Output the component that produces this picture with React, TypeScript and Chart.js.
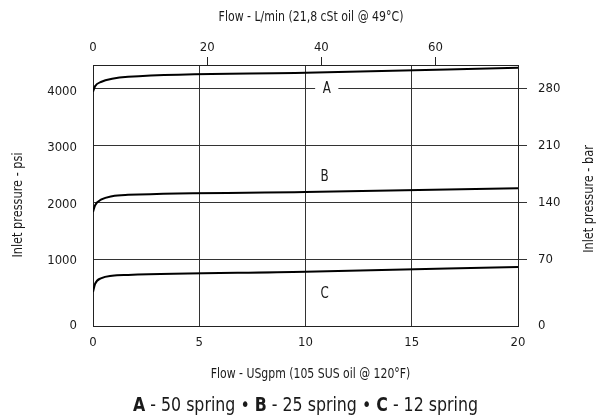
import React, { useEffect, useRef } from 'react';
import { Chart, registerables } from 'chart.js';

Chart.register(...registerables);

const FONT = '"Liberation Sans Narrow", "DejaVu Sans Condensed", "Arial Narrow", sans-serif';
const TEXT = '#1a1a1a';

// Curve data: flow in US gpm, inlet pressure in psi
const flowA = [0, 0.1, 0.4, 0.9, 1.65, 10, 20];
const psiA = [4000, 4100, 4178, 4232, 4267, 4338, 4428];
const flowB = [0, 0.1, 0.4, 0.9, 1.65, 10, 20];
const psiB = [1863, 1980, 2084, 2143, 2166, 2215, 2285];
const flowC = [0, 0.1, 0.4, 0.9, 1.65, 10, 20];
const psiC = [440, 585, 686, 729, 742, 798, 883];

// Axis ticks
const gpmTicks = [0, 5, 10, 15, 20];
const lpmTicks = [0, 20, 40, 60];
const psiTicks = [0, 1000, 2000, 3000, 4000];
const barTicks = [0, 70, 140, 210, 280];

// Axis ranges
const gpmMax = 20;
const lpmMax = 74.45;
const barMin = -11.5;
const barMax = 308.6;
const PSI_PER_BAR = 14.5038;

// Curve labels
const curveNames = ['A', 'B', 'C'];
const labelFlow = [11.0, 10.9, 10.9];
const labelPsi = [4061, 2499, 415];

const topTitle = 'Flow - L/min (21,8 cSt oil @ 49°C)';
const bottomTitle = 'Flow - USgpm (105 SUS oil @ 120°F)';
const leftTitle = 'Inlet pressure - psi';
const rightTitle = 'Inlet pressure - bar';
const legendParts: [string, string][] = [
  ['A', ' - 50 spring • '],
  ['B', ' - 25 spring • '],
  ['C', ' - 12 spring'],
];

const toPoints = (xs: number[], ys: number[]) => xs.map((x, i) => ({ x, y: ys[i] }));

const drawText = (ctx: any, text: string, x: number, y: number, rot: number, sx: number) => {
  ctx.save();
  ctx.translate(x, y);
  ctx.rotate(rot);
  ctx.scale(sx, 1);
  ctx.fillText(text, 0, 0);
  ctx.restore();
};

const textPlugin = {
  id: 'texts',
  afterDatasetsDraw(chart: any) {
    const ctx = chart.ctx;
    const xs = chart.scales.x;
    const ys = chart.scales.y;
    ctx.save();
    ctx.font = `15px ${FONT}`;
    ctx.textAlign = 'center';
    ctx.textBaseline = 'middle';
    curveNames.forEach((name, i) => {
      const px = xs.getPixelForValue(labelFlow[i]);
      const py = ys.getPixelForValue(labelPsi[i]);
      const w = ctx.measureText(name).width + 14;
      ctx.fillStyle = '#ffffff';
      ctx.fillRect(px - w / 2, py - 8, w, 16);
      ctx.fillStyle = TEXT;
      drawText(ctx, name, px, py + 1, 0, 0.88);
    });
    ctx.restore();
  },
  afterDraw(chart: any) {
    const ctx = chart.ctx;
    ctx.save();
    ctx.fillStyle = TEXT;
    ctx.font = `14px ${FONT}`;
    ctx.textAlign = 'center';
    ctx.textBaseline = 'middle';
    drawText(ctx, topTitle, 311, 17, 0, 0.87);
    drawText(ctx, bottomTitle, 310.5, 374, 0, 0.865);
    drawText(ctx, leftTitle, 18, 205, -Math.PI / 2, 0.9);
    drawText(ctx, rightTitle, 589, 199, -Math.PI / 2, 0.9);

    // legend with bold letters
    const size = 19;
    const sx = 0.925;
    const bold = `bold ${size}px ${FONT}`;
    const reg = `${size}px ${FONT}`;
    let total = 0;
    legendParts.forEach(([b, r]) => {
      ctx.font = bold;
      total += ctx.measureText(b).width;
      ctx.font = reg;
      total += ctx.measureText(r).width;
    });
    ctx.translate(305.5 - (total * sx) / 2, 406);
    ctx.scale(sx, 1);
    let x = 0;
    ctx.textAlign = 'left';
    legendParts.forEach(([b, r]) => {
      ctx.font = bold;
      ctx.fillText(b, x, 0);
      x += ctx.measureText(b).width;
      ctx.font = reg;
      ctx.fillText(r, x, 0);
      x += ctx.measureText(r).width;
    });
    ctx.restore();
  },
};

export default function App() {
  const ref = useRef<HTMLCanvasElement | null>(null);

  useEffect(() => {
    if (!ref.current) return;
    const lineDs = (data: { x: number; y: number }[]) => ({
      data,
      borderColor: '#000',
      borderWidth: 2,
      pointRadius: 0,
      cubicInterpolationMode: 'monotone' as const,
      fill: false,
      xAxisID: 'x',
      yAxisID: 'y',
    });
    const tickFont = { family: FONT, size: 13 };
    const chart = new Chart(ref.current, {
      type: 'line',
      data: {
        datasets: [
          lineDs(toPoints(flowA, psiA)),
          lineDs(toPoints(flowB, psiB)),
          lineDs(toPoints(flowC, psiC)),
        ],
      },
      options: {
        animation: false,
        responsive: false,
        maintainAspectRatio: false,
        layout: { padding: 0 },
        plugins: { legend: { display: false }, tooltip: { enabled: false } },
        scales: {
          x: {
            type: 'linear',
            position: 'bottom',
            min: 0,
            max: gpmMax,
            afterBuildTicks: (s: any) => {
              s.ticks = gpmTicks.map((v) => ({ value: v }));
            },
            afterFit: (s: any) => {
              s.height = 94;
            },
            grid: { display: true, drawOnChartArea: true, drawTicks: false, color: '#333', lineWidth: 1 },
            border: { display: true, color: '#222', width: 1 },
            ticks: {
              autoSkip: false,
              maxRotation: 0,
              padding: 9,
              color: TEXT,
              font: tickFont,
              callback: (_v: any, i: number) => String(gpmTicks[i]),
            },
          },
          x2: {
            type: 'linear',
            position: 'top',
            min: 0,
            max: lpmMax,
            afterBuildTicks: (s: any) => {
              s.ticks = lpmTicks.map((v) => ({ value: v }));
            },
            afterFit: (s: any) => {
              s.height = 65;
            },
            grid: {
              display: true,
              drawOnChartArea: false,
              drawTicks: true,
              tickLength: 8,
              color: (c: any) => (c.tick && c.tick.value === 0 ? 'rgba(0,0,0,0)' : '#222'),
              lineWidth: 1,
            },
            border: { display: true, color: '#222', width: 1 },
            ticks: {
              autoSkip: false,
              maxRotation: 0,
              padding: 2,
              color: TEXT,
              font: tickFont,
              callback: (_v: any, i: number) => String(lpmTicks[i]),
            },
          },
          y: {
            type: 'linear',
            position: 'left',
            min: barMin * PSI_PER_BAR,
            max: barMax * PSI_PER_BAR,
            afterBuildTicks: (s: any) => {
              s.ticks = psiTicks.map((v) => ({ value: v === 0 ? s.min : v }));
            },
            afterFit: (s: any) => {
              s.width = 93;
            },
            grid: { display: false, drawTicks: false },
            border: { display: true, color: '#222', width: 1 },
            ticks: {
              autoSkip: false,
              padding: 16,
              color: TEXT,
              font: tickFont,
              callback: (_v: any, i: number) => String(psiTicks[i]),
            },
          },
          y2: {
            type: 'linear',
            position: 'right',
            min: barMin,
            max: barMax,
            afterBuildTicks: (s: any) => {
              s.ticks = barTicks.map((v) => ({ value: v === 0 ? s.min : v }));
            },
            afterFit: (s: any) => {
              s.width = 78;
            },
            grid: {
              display: true,
              drawOnChartArea: true,
              drawTicks: true,
              tickLength: 9,
              color: (c: any) => (c.tick && c.index === 0 ? 'rgba(0,0,0,0)' : '#333'),
              lineWidth: 1,
            },
            border: { display: true, color: '#222', width: 1 },
            ticks: {
              autoSkip: false,
              padding: 11,
              color: TEXT,
              font: tickFont,
              callback: (_v: any, i: number) => String(barTicks[i]),
            },
          },
        },
      },
      plugins: [textPlugin],
    } as any);
    return () => chart.destroy();
  }, []);

  return (
    <div style={{ position: 'absolute', left: 0, top: 0, width: 596, height: 420, background: '#fff' }}>
      <canvas ref={ref} width={596} height={420} style={{ width: 596, height: 420, display: 'block' }} />
    </div>
  );
}
